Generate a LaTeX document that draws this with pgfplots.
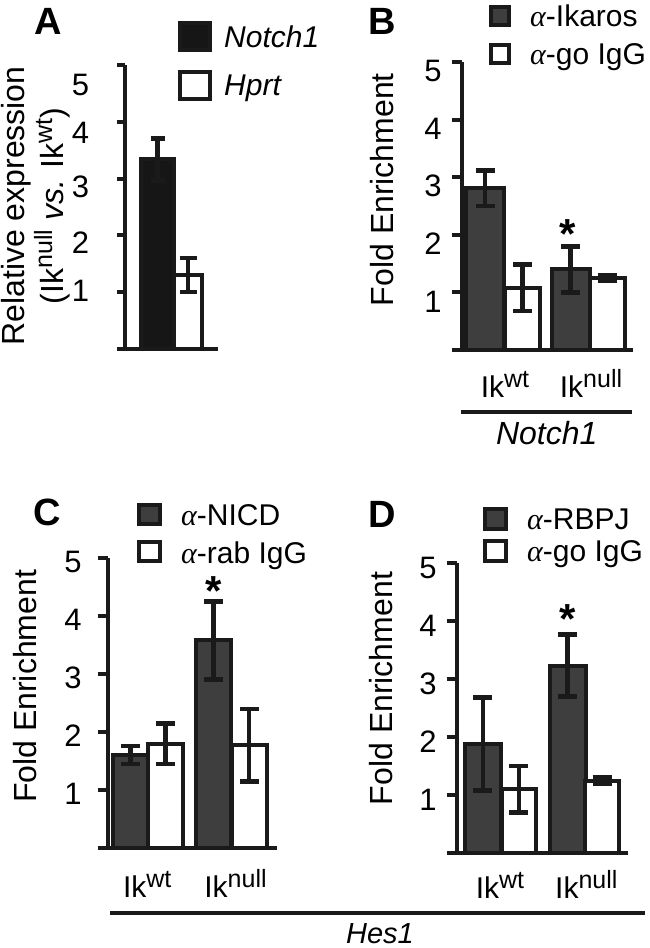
\documentclass[border=0pt]{standalone}
\usepackage{fontspec}
\setmainfont{Liberation Sans}
\newfontfamily\grk{Liberation Serif}
\usepackage{pgfplots}
\pgfplotsset{compat=1.18}
\definecolor{lc}{HTML}{1A1A1A}
\definecolor{dk}{HTML}{3E3E3E}
\definecolor{bk}{HTML}{161616}
\newcommand{\al}{{\grk\itshape α}}
\newcommand{\fs}[1]{\fontsize{#1}{#1}\selectfont}
\newcommand{\sups}[1]{\raisebox{0.34em}{\fontsize{25}{25}\selectfont #1}}
\newcommand{\sq}[4]{\draw[line width=4pt, draw=lc, fill=#3] (0pt,#4-#2/2) rectangle (#1,#4+#2/2);}
\pgfplotsset{
  panel/.style={
    scale only axis, anchor=south west, clip=false,
    axis lines*=left, axis line style={-, line width=4pt, draw=lc},
    ymin=0, ymax=5, ytick={0,1,2,3,4,5}, yticklabels={,1,2,3,4,5},
    tick align=outside, major tick length=10pt,
    ytick style={line width=4pt, draw=lc},
    xtick style={draw=none},
    /pgf/number format/assume math mode=true,
    tick label style={font=\fs{31}, inner sep=0pt},
    yticklabel style={anchor=east},
    xticklabel style={anchor=base, font=\fs{30}},
    legend style={draw=none, fill=none, inner sep=0pt, font=\fs{30}, anchor=north west,
       /tikz/every odd column/.append style={column sep=17pt}},
    legend cell align=left,
  },
  bars/.style={ybar, bar shift=0pt, line width=4pt, draw=lc},
  eb/.style={error bars/.cd, y dir=both, y explicit,
    error bar style={line width=4.5pt, draw=lc, solid},
    error mark options={rotate=90, line width=4.5pt, draw=lc, mark size=#1}},
}
\begin{document}
\begin{tikzpicture}
\path[use as bounding box] (0,0) rectangle (650pt,948pt);
% ---------------- Panel A
\begin{axis}[panel, at={(125pt,599pt)}, width=93pt, height=284pt, xmin=0, xmax=93,
  major tick length=8pt, xtick=\empty, yticklabels={},
  extra y ticks={1.02,1.87,2.85,3.80,4.65}, extra y tick labels={1,2,3,4,5},
  extra y tick style={major tick length=0pt, ytick style={draw=none}, yticklabel style={xshift=-35.7pt}},
  ylabel={Relative expression\\(Ik\sups{null} \textit{vs.} Ik\sups{wt})},
  every axis y label/.style={at={(axis description cs:-0.965,0.5035)}, rotate=90, anchor=center, align=center, font=\fontsize{32}{39}\selectfont},
  legend style={at={(axis description cs:0.570,1.155)}, /tikz/every odd column/.append style={column sep=10pt}, row sep=17.5pt},
]
\addplot[bars, fill=bk, bar width=33, legend image code/.code={\sq{30pt}{27pt}{bk}{1pt}}, eb=7pt]
  coordinates {(32.5,3.34) +- (0,0.37)};
\addlegendentry{\textit{Notch1}}
\addplot[bars, fill=white, bar width=28, legend image code/.code={\sq{30pt}{27pt}{white}{1pt}}, eb=8.5pt]
  coordinates {(63,1.30) +- (0,0.30)};
\addlegendentry{\textit{Hprt}}
\end{axis}
% ---------------- Panel B
\begin{axis}[panel, at={(462pt,598pt)}, width=171pt, height=288pt, xmin=0, xmax=171,
  xtick={43,129}, xticklabels={Ik\sups{wt},Ik\sups{null}},
  xticklabel style={yshift=-38pt},
  yticklabel style={xshift=-10.3pt, yshift=-9pt},
  ylabel={Fold Enrichment},
  every axis y label/.style={at={(axis description cs:-0.4035,0.557)}, rotate=90, anchor=base, font=\fs{32}},
  legend style={at={(axis description cs:0.158,1.205)}, row sep=11pt},
]
\addplot[bars, fill=dk, bar width=38, legend image code/.code={\sq{18pt}{18pt}{dk}{1pt}}, eb=9.5pt]
  coordinates {(23,2.81) +- (0,0.31) (108.5,1.40) +- (0,0.40)};
\addlegendentry{\al-Ikaros}
\addplot[bars, fill=white, bar width=35, legend image code/.code={\sq{18pt}{18pt}{white}{1pt}}, eb=9.5pt]
  coordinates {(60.5,1.08) +- (0,0.40) (145,1.245) +- (0,0.05)};
\addlegendentry{\al-go IgG}
\node[anchor=north, inner sep=0pt, font=\fs{42}\bfseries] at (axis cs:105.7,2.27) {*};
\end{axis}
% ---------------- Panel C
\begin{axis}[panel, at={(108.3pt,100.3pt)}, width=168.4pt, height=289.4pt, xmin=0, xmax=168.4,
  xtick={38.9,127.2}, xticklabels={Ik\sups{wt},Ik\sups{null}},
  xticklabel style={yshift=-40pt},
  yticklabel style={xshift=-16.6pt, yshift=-4pt},
  ylabel={Fold Enrichment},
  every axis y label/.style={at={(axis description cs:-0.4234,0.557)}, rotate=90, anchor=base, font=\fs{32}},
  legend style={at={(axis description cs:0.170,1.1945)}, row sep=10.7pt},
]
\addplot[bars, fill=dk, bar width=35, legend image code/.code={\sq{21pt}{19pt}{dk}{1pt}}, eb=9.5pt]
  coordinates {(22.2,1.60) +- (0,0.155) (105.4,3.58) +- (0,0.67)};
\addlegendentry{\al-NICD}
\addplot[bars, fill=white, bar width=35, legend image code/.code={\sq{21pt}{19pt}{white}{1pt}}, eb=9.5pt]
  coordinates {(57,1.80) +- (0,0.35) (140.8,1.77) +- (0,0.63)};
\addlegendentry{\al-rab IgG}
\node[anchor=north, inner sep=0pt, font=\fs{42}\bfseries] at (axis cs:105,4.69) {*};
\end{axis}
% ---------------- Panel D
\begin{axis}[panel, at={(456.7pt,94.7pt)}, width=171.6pt, height=290.6pt, xmin=0, xmax=171.6,
  xtick={43.3,129.6}, xticklabels={Ik\sups{wt},Ik\sups{null}},
  xticklabel style={yshift=-35pt},
  yticklabel style={xshift=-10pt, yshift=-5pt},
  ylabel={Fold Enrichment},
  every axis y label/.style={at={(axis description cs:-0.377,0.567)}, rotate=90, anchor=base, font=\fs{32}},
  legend style={at={(axis description cs:0.153,1.1917)}, row sep=5pt},
]
\addplot[bars, fill=dk, bar width=36, legend image code/.code={\sq{21pt}{20pt}{dk}{1pt}}, eb=9.5pt]
  coordinates {(26.1,1.88) +- (0,0.80) (110.8,3.23) +- (0,0.535)};
\addlegendentry{\al-RBPJ}
\addplot[bars, fill=white, bar width=34, legend image code/.code={\sq{21pt}{20pt}{white}{1pt}}, eb=9.5pt]
  coordinates {(62.1,1.10) +- (0,0.40) (145.3,1.25) +- (0,0.05)};
\addlegendentry{\al-go IgG}
\node[anchor=north, inner sep=0pt, font=\fs{42}\bfseries] at (axis cs:111,4.28) {*};
\end{axis}
% ---------------- annotations
\node[font=\fs{38}\bfseries] at (48pt,927pt) {A};
\node[font=\fs{38}\bfseries] at (382pt,927pt) {B};
\node[font=\fs{38}\bfseries] at (47pt,436pt) {C};
\node[font=\fs{38}\bfseries] at (382pt,434pt) {D};
\draw[line width=4pt, lc] (461pt,535.7pt) -- (632pt,535.7pt);
\node[anchor=base, font=\fs{32}\itshape] at (546.7pt,503pt) {Notch1};
\draw[line width=4pt, lc] (110pt,35.3pt) -- (645pt,35.3pt);
\node[anchor=base, font=\fs{29}\itshape] at (380pt,5pt) {Hes1};
\end{tikzpicture}
\end{document}
